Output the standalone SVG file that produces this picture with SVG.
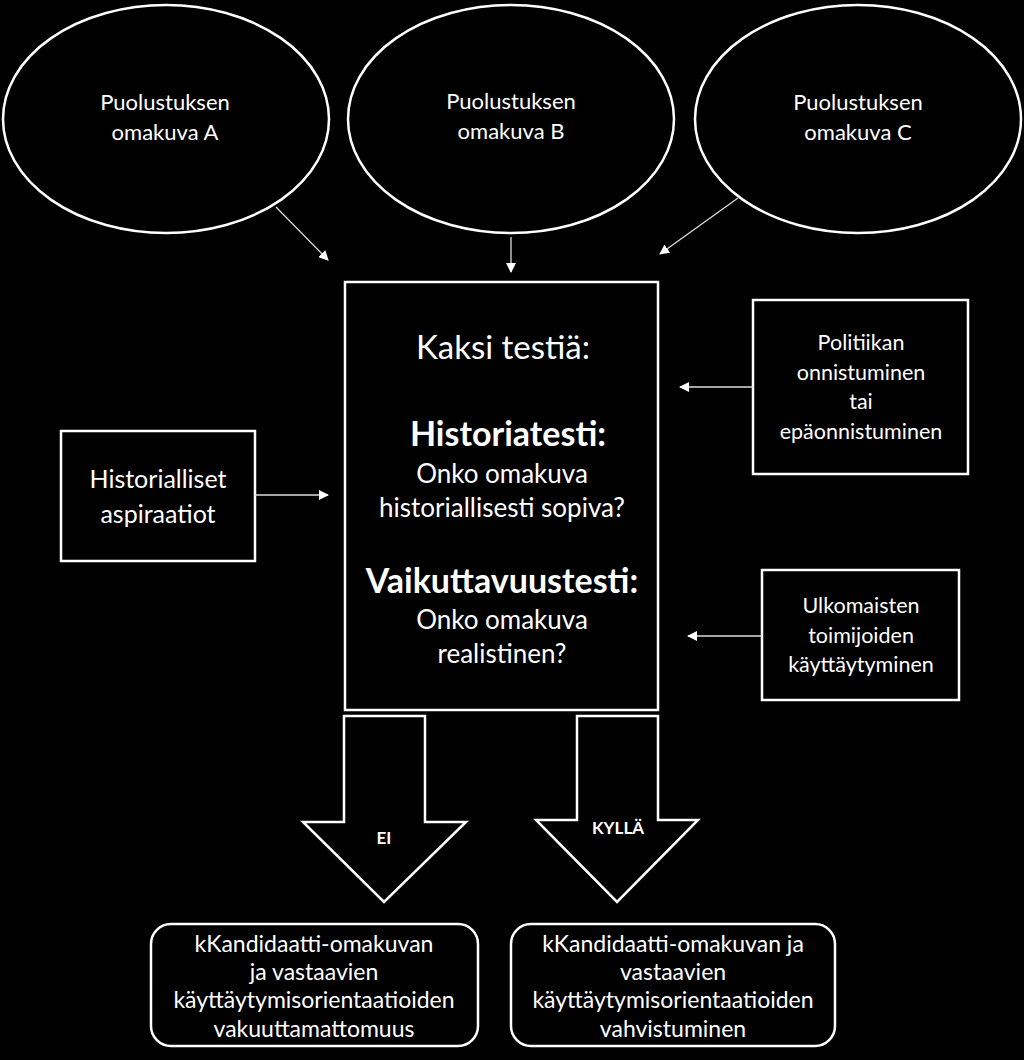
<svg xmlns="http://www.w3.org/2000/svg" width="1024" height="1060" viewBox="0 0 1024 1060">
<style>
text{font-family:Lato,"Open Sans","Liberation Sans",sans-serif;fill:#fff;text-anchor:middle}
.s{fill:none;stroke:#fff;stroke-width:2.5}
.c{stroke:#ddd;stroke-width:1.3;fill:none}
.e{font-size:22px}
.r{font-size:21.5px}
.h{font-size:25px}
.m{font-size:26px}
.bt{font-size:23px}
.b{font-weight:bold}
</style>
<defs>
<marker id="ah" markerWidth="10" markerHeight="10" refX="9" refY="5" orient="auto" markerUnits="userSpaceOnUse" viewBox="0 0 10 10">
<path d="M0,0 L10,5 L0,10 Z" fill="#fff"/>
</marker>
</defs>
<rect width="1024" height="1060" fill="#000"/>
<g id="ellA"><ellipse class="s" cx="166" cy="119" rx="163" ry="114"/><text class="e" x="165" y="110">Puolustuksen</text><text class="e" x="165" y="140">omakuva A</text></g>
<g id="ellB"><ellipse class="s" cx="511" cy="119" rx="163" ry="114"/><text class="e" x="511" y="109">Puolustuksen</text><text class="e" x="511" y="139">omakuva B</text></g>
<g id="ellC"><ellipse class="s" cx="858" cy="119" rx="163" ry="114"/><text class="e" x="858" y="110">Puolustuksen</text><text class="e" x="858" y="140">omakuva C</text></g>
<g id="main"><rect class="s" x="345" y="282" width="313" height="428"/>
<text x="503" y="359" font-size="33">Kaksi testiä:</text>
<text class="b" x="508" y="446" font-size="34">Historiatesti:</text>
<text class="m" x="502" y="483">Onko omakuva</text>
<text class="m" x="502" y="517">historiallisesti sopiva?</text>
<text class="b" x="502" y="593" font-size="34">Vaikuttavuustesti:</text>
<text class="m" x="502" y="629">Onko omakuva</text>
<text class="m" x="502" y="663">realistinen?</text></g>
<g id="polit"><rect class="s" x="753" y="300" width="215" height="174"/>
<text class="r" x="861" y="350">Politiikan</text><text class="r" x="861" y="380">onnistuminen</text><text class="r" x="861" y="409">tai</text><text class="r" x="861" y="439">epäonnistuminen</text></g>
<g id="ulko"><rect class="s" x="762" y="570" width="197" height="130"/>
<text class="r" x="861" y="613">Ulkomaisten</text><text class="r" x="861" y="643">toimijoiden</text><text class="r" x="861" y="672">käyttäytyminen</text></g>
<g id="hist"><rect class="s" x="61" y="431" width="194" height="130"/>
<text class="h" x="158" y="488">Historialliset</text><text class="h" x="158" y="523">aspiraatiot</text></g>
<g id="arrEI"><path class="s" d="M344,716 H425 V822 H466 L384,902 L303,822 H344 Z"/><text class="b" x="384" y="844" font-size="17">EI</text></g>
<g id="arrKYLLA"><path class="s" d="M577,716 H658 V820 H698 L617,902 L536,820 H577 Z"/><text class="b" x="618" y="834" font-size="17">KYLLÄ</text></g>
<g id="resEI"><rect class="s" x="151" y="924" width="327" height="122" rx="20"/>
<text class="bt" x="314" y="952">kKandidaatti-omakuvan</text><text class="bt" x="314" y="980">ja vastaavien</text><text class="bt" x="314" y="1008">käyttäytymisorientaatioiden</text><text class="bt" x="314" y="1037">vakuuttamattomuus</text></g>
<g id="resKYLLA"><rect class="s" x="511" y="924" width="324" height="122" rx="20"/>
<text class="bt" x="673" y="952">kKandidaatti-omakuvan ja</text><text class="bt" x="673" y="980">vastaavien</text><text class="bt" x="673" y="1008">käyttäytymisorientaatioiden</text><text class="bt" x="673" y="1037">vahvistuminen</text></g>
<g id="connectors">
<line class="c" x1="276" y1="207" x2="328" y2="260" marker-end="url(#ah)"/>
<line class="c" x1="511" y1="237" x2="511" y2="272" marker-end="url(#ah)"/>
<line class="c" x1="738" y1="198" x2="660" y2="254" marker-end="url(#ah)"/>
<line class="c" x1="753" y1="387" x2="680" y2="387" marker-end="url(#ah)"/>
<line class="c" x1="762" y1="636" x2="688" y2="636" marker-end="url(#ah)"/>
<line class="c" x1="255" y1="495" x2="328" y2="495" marker-end="url(#ah)"/>
</g>
</svg>
